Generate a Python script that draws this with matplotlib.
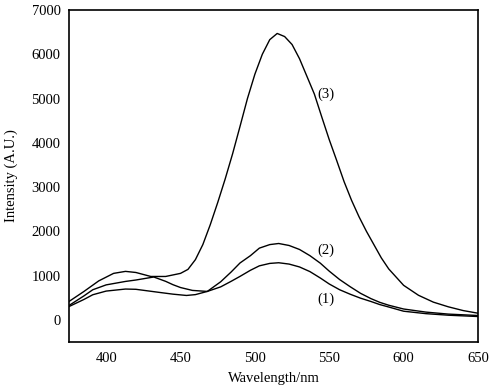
import matplotlib.pyplot as plt

# spectra (wavelength nm, intensity a.u.)
w3 = [375, 385, 395, 405, 413, 420, 430, 440, 450, 455, 460, 465, 470, 475, 480,
      485, 490, 495, 500, 505, 510, 515, 520, 525, 530, 535, 540, 545, 550, 555,
      560, 565, 570, 575, 580, 585, 590, 600, 610, 620, 630, 640, 650]
i3 = [415, 640, 880, 1050, 1095, 1070, 980, 980, 1050, 1140, 1360, 1700, 2150, 2650, 3180,
      3750, 4370, 5000, 5550, 6000, 6330, 6470, 6400, 6220, 5900, 5500, 5100, 4580, 4070, 3600,
      3120, 2700, 2330, 2000, 1700, 1400, 1150, 780, 555, 400, 295, 210, 150]

w2 = [375, 385, 391, 400, 413, 420, 432, 440, 445, 450, 458, 468, 477, 484, 490,
      497, 503, 510, 516, 523, 530, 537, 544, 550, 557, 564, 571, 578, 584, 590,
      600, 615, 630, 650]
i2 = [324, 540, 680, 790, 868, 900, 968, 870, 793, 730, 665, 642, 860, 1080, 1285,
      1450, 1620, 1700, 1725, 1680, 1590, 1450, 1280, 1100, 910, 750, 600, 480, 395, 330,
      245, 175, 130, 98]

w1 = [375, 385, 391, 400, 413, 420, 436, 445, 454, 460, 468, 477, 484, 490, 497,
      503, 510, 516, 523, 530, 537, 544, 550, 557, 564, 571, 578, 584, 590, 600,
      615, 630, 650]
i1 = [300, 460, 567, 650, 696, 690, 619, 580, 551, 570, 642, 745, 870, 982, 1120,
      1220, 1275, 1290, 1260, 1195, 1090, 945, 810, 680, 580, 490, 415, 345, 290, 195,
      140, 105, 75]

labels = ['(1)', '(2)', '(3)']
label_pos = [(548, 469), (548, 1571), (548, 5102)]

plt.rcParams['font.family'] = ['Liberation Serif', 'DejaVu Serif']
plt.rcParams['font.size'] = 10.5

fig = plt.figure(figsize=(4.92, 3.92), dpi=100)
ax = fig.add_axes([0.1402, 0.1276, 0.8313, 0.8469])

ax.plot(w1, i1, color='black', lw=1.0)
ax.plot(w2, i2, color='black', lw=1.0)
ax.plot(w3, i3, color='black', lw=1.0)

for lab, (x, y) in zip(labels, label_pos):
    ax.text(x, y, lab, ha='center', va='center')

ax.set_xlim(375, 650)
ax.set_ylim(-500, 7000)
ax.set_xticks([400, 450, 500, 550, 600, 650])
ax.set_yticks(range(0, 7001, 1000))
ax.tick_params(length=0)
ax.tick_params(axis='x', pad=7)
ax.tick_params(axis='y', pad=6)
for s in ax.spines.values():
    s.set_linewidth(1.2)

ax.set_xlabel('Wavelength/nm', labelpad=5)
ax.set_ylabel('Intensity (A.U.)', labelpad=10)

fig.savefig('out.png', dpi=100)
